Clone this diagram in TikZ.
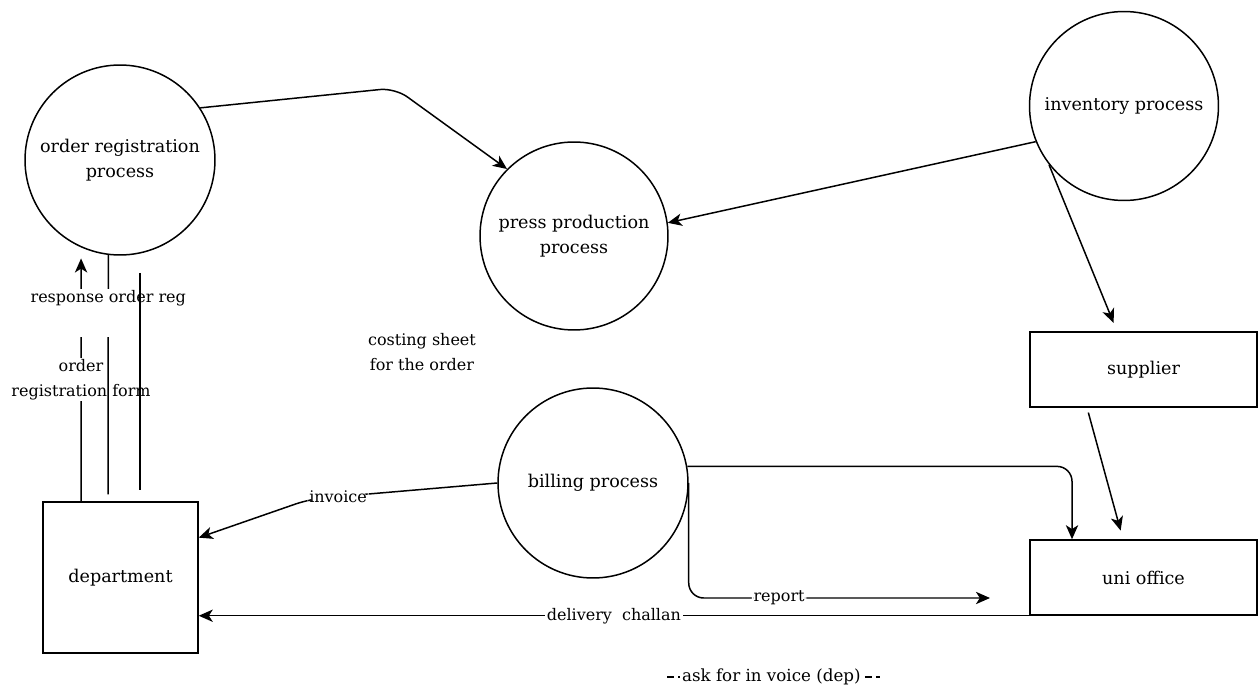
\documentclass[tikz,border=0pt]{standalone}
\usepackage{fontspec}
\setmainfont{DejaVu Serif}
\usepackage{tikz}
\usetikzlibrary{shapes, arrows.meta, positioning}

\begin{document}
\begin{tikzpicture}[x=0.02cm, y=-0.02cm,
    proc/.style={draw, circle, line width=0.85pt, minimum size=#1, align=center, font=\fontsize{10}{14.5}\selectfont},
    ent/.style={draw, rectangle, line width=0.85pt, minimum width=#1, minimum height=1.5cm, font=\fontsize{10}{14.5}\selectfont},
    flow/.style={line width=0.85pt, -{Stealth[length=8pt, width=7pt, inset=2.2pt]}},
    plain/.style={line width=0.85pt},
    lbl/.style={fill=white, inner sep=1pt, align=center, font=\fontsize{9.1}{14}\selectfont}]
    \useasboundingbox (0,0) rectangle (1259,689);

    % processes
    \node[proc=3.8cm] (ordreg) at (120,160) {order registration\\process};
    \node[proc=3.76cm] (press) at (574,236) {press production\\process};
    \node[proc=3.78cm] (inv) at (1124,106) {inventory process};
    \node[proc=3.8cm] (bill) at (593,483) {billing process};

    % entities
    \node[ent=4.55cm] (sup) at (1143.5,369.5) {supplier};
    \node[ent=4.55cm] (uni) at (1143.5,577.5) {uni office};
    \node[ent=3.1cm, minimum height=3.02cm] (dep) at (120.5,577.5) {department};

    \node[lbl, fill=none] (cost) at (422,352) {costing sheet\\for the order};

    % flows at the top
    \draw[flow, rounded corners=0.3cm] (ordreg.33) -- (395,88) -- (press.135);
    \draw[flow] (inv.202) -- (press.8);
    \draw[flow, shorten >=0.18cm] (inv.218) -- ([xshift=-0.53cm]sup.north);
    \draw[flow, shorten <=0.1cm, shorten >=0.18cm] ([xshift=-1.13cm]sup.south) -- ([xshift=-0.41cm]uni.north);

    % billing
    \draw[flow, rounded corners=0.3cm] (bill.10) -| ([xshift=-1.43cm]uni.north);
    \coordinate (rep) at (990,598);
    \draw[flow, rounded corners=0.3cm] (bill.east) |- (rep) node[lbl, pos=0.65] {report};
    \draw[flow, rounded corners=0.3cm] (bill.west) -- node[lbl, pos=0.85] {invoice} (310,499) -- (dep.27);
    \draw[flow] (uni.south west) -- (dep.east |- uni.south west)
        node[lbl, pos=0.5] {delivery\ \ challan};

    % department and order registration
    \draw[flow, shorten >=0.22cm] ([xshift=-0.79cm]dep.north) -- (ordreg.246)
        node[lbl, pos=0.48] {order\\registration form};
    \draw[plain, shorten >=0.14cm] (ordreg.263) -- ([xshift=-0.25cm]dep.north)
        node[lbl, pos=0.235] {response order reg\\\strut};
    \coordinate (c1) at (140,273);
    \coordinate (c2) at (140,490);
    \draw[plain] (c1) -- (c2);

    % ask for invoice
    \coordinate (ask1) at (667,677);
    \coordinate (ask2) at (880,677);
    \draw[plain, dash pattern=on 0.14cm off 0.08cm] (ask1) -- (ask2)
        node[lbl, pos=0.49, font=\fontsize{9.5}{14}\selectfont] {ask for in voice (dep)};
\end{tikzpicture}
\end{document}
